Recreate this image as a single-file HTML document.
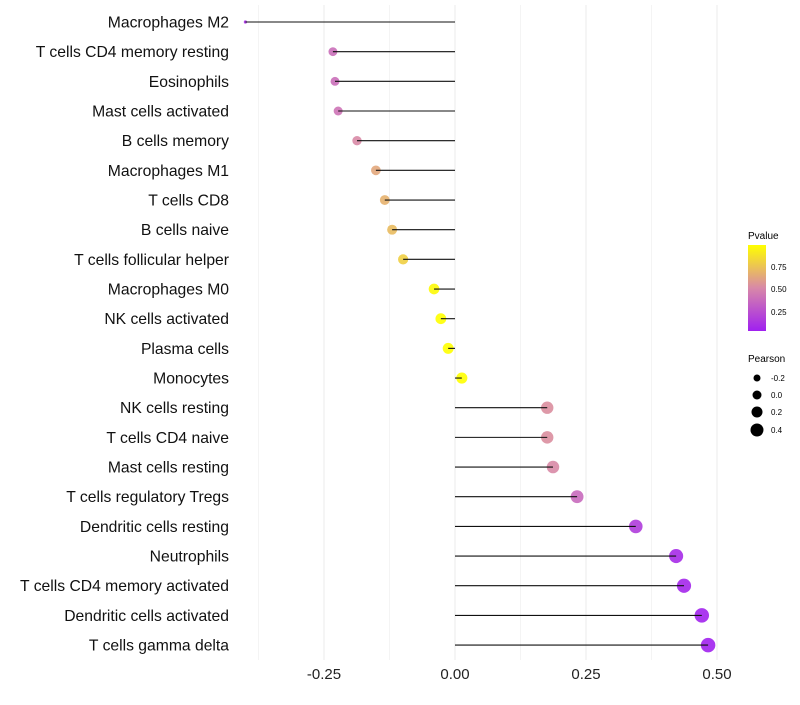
<!DOCTYPE html>
<html><head><meta charset="utf-8"><style>
body{margin:0;background:#fff;font-family:"Liberation Sans",Arial,sans-serif}
svg text{font-family:"Liberation Sans",Arial,sans-serif}
</style></head><body>
<svg id="chart" width="800" height="700">
<defs><linearGradient id="pg" x1="0" y1="1" x2="0" y2="0">
<stop offset="0" stop-color="#a020f0"/><stop offset="0.5" stop-color="#d888a8"/><stop offset="1" stop-color="#ffff00"/>
</linearGradient></defs>
<g id="grid"></g>
<g id="dots"></g>
<g id="marks"></g>
<g id="labels"></g>
<g>
<text x="748" y="239" font-size="10">Pvalue</text>
<rect x="748" y="245" width="18" height="86" fill="url(#pg)"/>
<text x="771" y="270" font-size="8">0.75</text>
<text x="771" y="292" font-size="8">0.50</text>
<text x="771" y="315" font-size="8">0.25</text>
</g>
<g>
<text x="748" y="362" font-size="10">Pearson</text>
<circle cx="757" cy="378" r="3.5"/><text x="771" y="381" font-size="8">-0.2</text>
<circle cx="757" cy="395" r="4.5"/><text x="771" y="398" font-size="8">0.0</text>
<circle cx="757" cy="412" r="5.5"/><text x="771" y="415" font-size="8">0.2</text>
<circle cx="757" cy="430" r="6.5"/><text x="771" y="433" font-size="8">0.4</text>
</g>
</svg>
<script>
const categories=["Macrophages M2","T cells CD4 memory resting","Eosinophils","Mast cells activated","B cells memory","Macrophages M1","T cells CD8","B cells naive","T cells follicular helper","Macrophages M0","NK cells activated","Plasma cells","Monocytes","NK cells resting","T cells CD4 naive","Mast cells resting","T cells regulatory  Tregs ","Dendritic cells resting","Neutrophils","T cells CD4 memory activated","Dendritic cells activated","T cells gamma delta"];
const pearson=[-0.40,-0.233,-0.229,-0.223,-0.187,-0.151,-0.134,-0.120,-0.099,-0.040,-0.027,-0.013,0.013,0.176,0.176,0.187,0.233,0.345,0.422,0.437,0.471,0.483];
const pvalue=[0.08,0.38,0.38,0.40,0.5,0.62,0.66,0.7,0.78,0.95,0.97,0.98,0.99,0.52,0.52,0.5,0.36,0.15,0.07,0.05,0.04,0.03];
const xTicks=[-0.25,0,0.25,0.5];
const xTickLabels=["-0.25","0.00","0.25","0.50"];
const NS="http://www.w3.org/2000/svg";
const x=v=>455+v*524;
const y=i=>22+i*29.67;
function mk(tag,attrs,parent){const e=document.createElementNS(NS,tag);for(const k in attrs)e.setAttribute(k,attrs[k]);document.getElementById(parent).appendChild(e);return e;}
function lerp(a,b,t){return a.map((v,i)=>Math.round(v+(b[i]-v)*t));}
function col(p){const c0=[160,32,240],c1=[216,136,168],c2=[255,255,0];const t=Math.max(0,Math.min(1,(p-0.02)/0.95));const c=t<0.5?lerp(c0,c1,t*2):lerp(c1,c2,(t-0.5)*2);return `rgb(${c})`;}
const rad=v=>(v<=-0.39?1.6:Math.sqrt(12+46*(v+0.4)));
[-0.25,0,0.25,0.5].forEach(v=>{const g=mk("line",{x1:x(v),x2:x(v),y1:5,y2:660,stroke:"#ebebeb","stroke-width":1},"grid");

});
[-0.375,-0.125,0.125,0.375].forEach(v=>{const g=mk("line",{x1:x(v),x2:x(v),y1:5,y2:660,stroke:"#f2f2f2","stroke-width":0.8},"grid");

});
xTicks.forEach((v,i)=>{const t=mk("text",{x:x(v),y:679,"font-size":15,"text-anchor":"middle",fill:"#222"},"labels");t.textContent=xTickLabels[i];

});
categories.forEach((c,i)=>{
const t=mk("text",{x:229,y:y(i)+5.5,"font-size":15.7,"text-anchor":"end",fill:"#111"},"labels");t.textContent=c;


const d=mk("circle",{cx:x(pearson[i]),cy:y(i),r:rad(pearson[i]),fill:col(pvalue[i]),"fill-opacity":0.9},"dots");


const l=mk("line",{x1:x(0),x2:x(pearson[i]),y1:y(i),y2:y(i),stroke:"#111","stroke-width":1.1},"marks");


});
</script>
</body></html>
